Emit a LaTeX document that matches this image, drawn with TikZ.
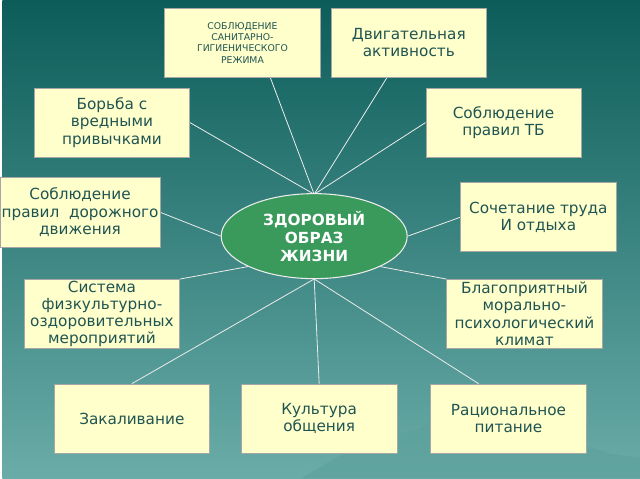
\documentclass[tikz,border=0pt]{standalone}
\usepackage{fontspec}
\setmainfont{DejaVu Sans}
\usetikzlibrary{shapes.geometric,backgrounds}
\definecolor{boxfill}{HTML}{FFFFCC}
\definecolor{boxtext}{HTML}{1F5452}
\definecolor{seatop}{HTML}{0C5D5A}
\definecolor{seabot}{HTML}{6AACA8}
\definecolor{ellgreen}{HTML}{3A9A5C}
\tikzset{
  factor/.style={draw=gray!70,fill=boxfill,text=boxtext,minimum width=117pt,minimum height=52pt,align=center,inner sep=1pt,font=\fontsize{11.5}{13}\selectfont},
  spoke/.style={draw=white!85!gray,line width=0.6pt}
}
\begin{document}
\begin{tikzpicture}[x=0.75pt,y=-0.75pt]
\node[ellipse,draw=white!85!gray,fill=ellgreen,text=white,font=\bfseries\fontsize{11.5}{13.5}\selectfont,minimum width=140pt,minimum height=64pt,align=center,inner sep=0pt,line width=0.8pt] (zoj) at (313,237) {ЗДОРОВЫЙ\\ОБРАЗ\\ЖИЗНИ};
\coordinate (hub) at (313,195);
\coordinate (foot) at (313,280);
\node[factor,font=\fontsize{7}{8.5}\selectfont] (sanit) at (241,43) {СОБЛЮДЕНИЕ\\САНИТАРНО-\\ГИГИЕНИЧЕСКОГО\\РЕЖИМА};
\node[factor] (motion) at (408,43) {Двигательная\\активность};
\node[factor] (habits) at (110,123) {Борьба с\\вредными\\привычками};
\node[factor] (safety) at (503,123) {Соблюдение\\правил ТБ};
\node[factor] (road) at (78,213) {Соблюдение\\правил\ \ дорожного\\движения};
\node[factor] (work) at (538,218) {Сочетание труда\\И отдыха};
\node[factor] (sport) at (100,315) {Система\\физкультурно-\\оздоровительных\\мероприятий};
\node[factor] (climate) at (524,315) {Благоприятный\\морально-\\психологический\\климат};
\node[factor] (harden) at (130,420) {Закаливание};
\node[factor] (culture) at (318,420) {Культура\\общения};
\node[factor] (food) at (508,420) {Рациональное\\питание};
\begin{scope}[on background layer]
\shade[top color=seatop,bottom color=seabot] (0,0) rectangle (640,480);
% mountain
\fill[seabot!85!seatop,opacity=0.6] (300,480) -- (360,445) -- (420,430) -- (470,400) -- (520,420) -- (560,440) -- (610,455) -- (640,460) -- (640,480) -- cycle;
\draw[spoke] (sanit.south) ++(28,0) -- (hub);
\draw[spoke] (motion.south) ++(-22,0) -- (hub);
\draw[spoke] (habits.east) -- (hub);
\draw[spoke] (safety.west) -- (hub);
\draw[spoke] (road.east) -- (zoj.west);
\draw[spoke] (work.west) -- (zoj.east);
\draw[spoke] (sport.north east) -- (zoj.south west);
\draw[spoke] (climate.north west) -- (zoj.south east);
\draw[spoke] (harden.north) -- (foot);
\draw[spoke] (culture.north) -- (foot);
\draw[spoke] (food.north) ++(-30,0) -- (foot);
\end{scope}
\useasboundingbox (0,0) rectangle (640,480);
\end{tikzpicture}
\end{document}
